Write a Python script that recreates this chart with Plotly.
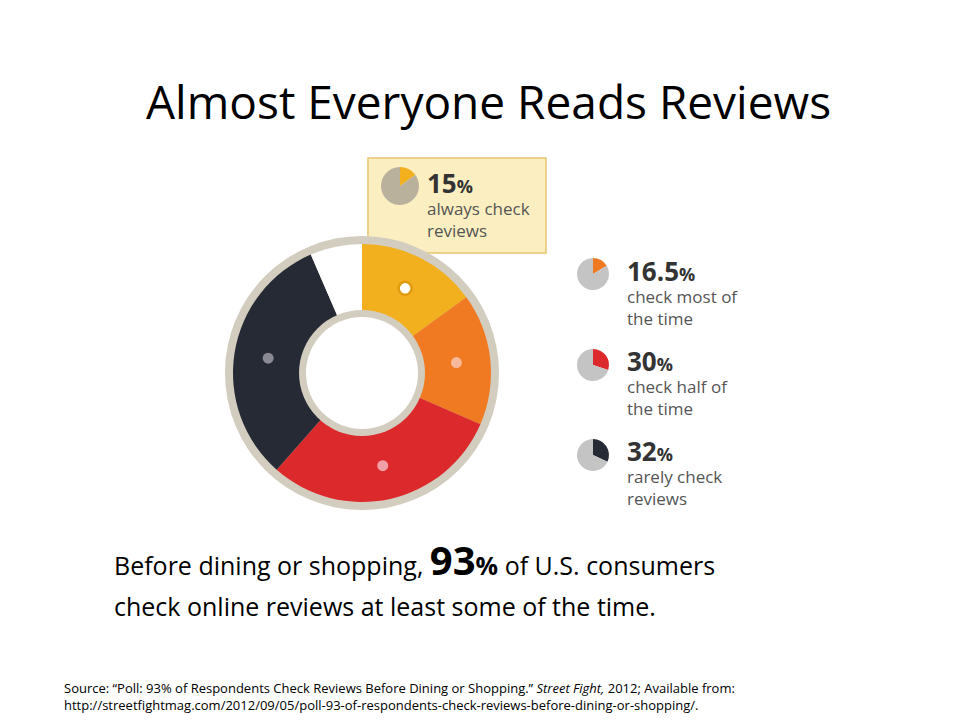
import plotly.graph_objects as go
import math

labels = ["always check reviews", "check most of the time", "check half of the time", "rarely check reviews", "never"]
values = [15, 16.5, 30, 32, 6.5]
colors = ["#f2b01e", "#ef7a22", "#dc2a2c", "#252a35", "#ffffff"]
dot_colors = ["#ffffff", "#f7b999", "#f2a0a8", "#8a8a95"]
pct_labels = ["15", "16.5", "30", "32"]
desc = [["always check", "reviews"], ["check most of", "the time"], ["check half of", "the time"], ["rarely check", "reviews"]]

W, H = 960, 720
cx, cy = 354, 365

def dom(x, y, r):
    return dict(x=[(x - r) / W, (x + r) / W], y=[1 - (y + r) / H, 1 - (y - r) / H])

fig = go.Figure()
fig.add_trace(go.Pie(values=[1], marker=dict(colors=["#d3cdbf"], line=dict(width=0)), domain=dom(cx, cy, 137),
                     textinfo="none", hoverinfo="skip", showlegend=False, sort=False))
fig.add_trace(go.Pie(values=values, labels=labels, marker=dict(colors=colors, line=dict(width=0)),
                     domain=dom(cx, cy, 129), hole=62 / 129, sort=False, direction="clockwise",
                     rotation=0, textinfo="none", hoverinfo="label+value", showlegend=False))
fig.add_trace(go.Pie(values=[1], marker=dict(colors=["#d3cdbf"], line=dict(width=0)), domain=dom(cx, cy, 63),
                     textinfo="none", hoverinfo="skip", showlegend=False, sort=False))
fig.add_trace(go.Pie(values=[1], marker=dict(colors=["#ffffff"], line=dict(width=0)), domain=dom(cx, cy, 56),
                     textinfo="none", hoverinfo="skip", showlegend=False, sort=False))

mini = [(392, 178, 19, "#b9b19c"), (585, 266, 16, "#c4c4c4"), (585, 357, 16, "#c4c4c4"), (585, 447, 16, "#c4c4c4")]
for i, (x, y, r, g) in enumerate(mini):
    fig.add_trace(go.Pie(values=[values[i], 100 - values[i]], marker=dict(colors=[colors[i], g], line=dict(width=0)),
                         domain=dom(x, y, r), sort=False, direction="clockwise", rotation=0,
                         textinfo="none", hoverinfo="skip", showlegend=False))

shapes = [dict(type="path", path="M 360 150 L 538 150 L 538 245 L 404 245 L 396 256 L 388 245 L 360 245 Z",
               fillcolor="#fbefc2", line=dict(color="#e6c56e", width=1.5), layer="below")]

cum = 0
for i, v in enumerate(values[:4]):
    mid = (cum + v / 2) / 100 * 2 * math.pi
    cum += v
    x = cx + 95 * math.sin(mid)
    y = cy - 95 * math.cos(mid)
    r = 6.5 if i == 0 else 5.5
    shapes.append(dict(type="circle", xref="x", yref="y", x0=x - r, x1=x + r, y0=y - r, y1=y + r,
                       fillcolor=dot_colors[i], layer="above",
                       line=dict(color="#e09a10", width=2.5 if i == 0 else 0)))

ann = []
ann.append(dict(x=480, y=93, text="Almost Everyone Reads Reviews", showarrow=False,
                font=dict(family="Open Sans", size=46, color="#000")))
tx = [417, 617, 617, 617]
ty = [175, 263, 353, 443]
for i in range(4):
    ann.append(dict(x=tx[i], y=ty[i], xanchor="left", text=f"<b>{pct_labels[i]}<span style='font-size:18px'>%</span></b>",
                    showarrow=False, font=dict(family="Open Sans", size=26, color="#333")))
    ann.append(dict(x=tx[i], y=ty[i] + 36, xanchor="left", text="<br>".join(desc[i]), showarrow=False,
                    align="left", font=dict(family="Open Sans", size=17, color="#555")))
ann.append(dict(x=104, y=551, xanchor="left", showarrow=False,
                text="Before dining or shopping, <b><span style='font-size:40px'>93</span>%</b> of U.S. consumers",
                font=dict(family="Open Sans", size=25, color="#000")))
ann.append(dict(x=104, y=598, xanchor="left", showarrow=False,
                text="check online reviews at least some of the time.", font=dict(family="Open Sans", size=25, color="#000")))
ann.append(dict(x=54, y=688, xanchor="left", showarrow=False, align="left",
                text="Source: “Poll: 93% of Respondents Check Reviews Before Dining or Shopping.” <i>Street Fight,</i> 2012; Available from:<br>http://streetfightmag.com/2012/09/05/poll-93-of-respondents-check-reviews-before-dining-or-shopping/.",
                font=dict(family="Open Sans", size=13, color="#000")))

fig.update_layout(width=W, height=H, margin=dict(l=0, r=0, t=0, b=0), paper_bgcolor="white", plot_bgcolor="rgba(0,0,0,0)",
                  xaxis=dict(range=[0, W], visible=False, fixedrange=True),
                  yaxis=dict(range=[H, 0], visible=False, fixedrange=True),
                  shapes=shapes, annotations=ann)
fig.write_html("out.html")
